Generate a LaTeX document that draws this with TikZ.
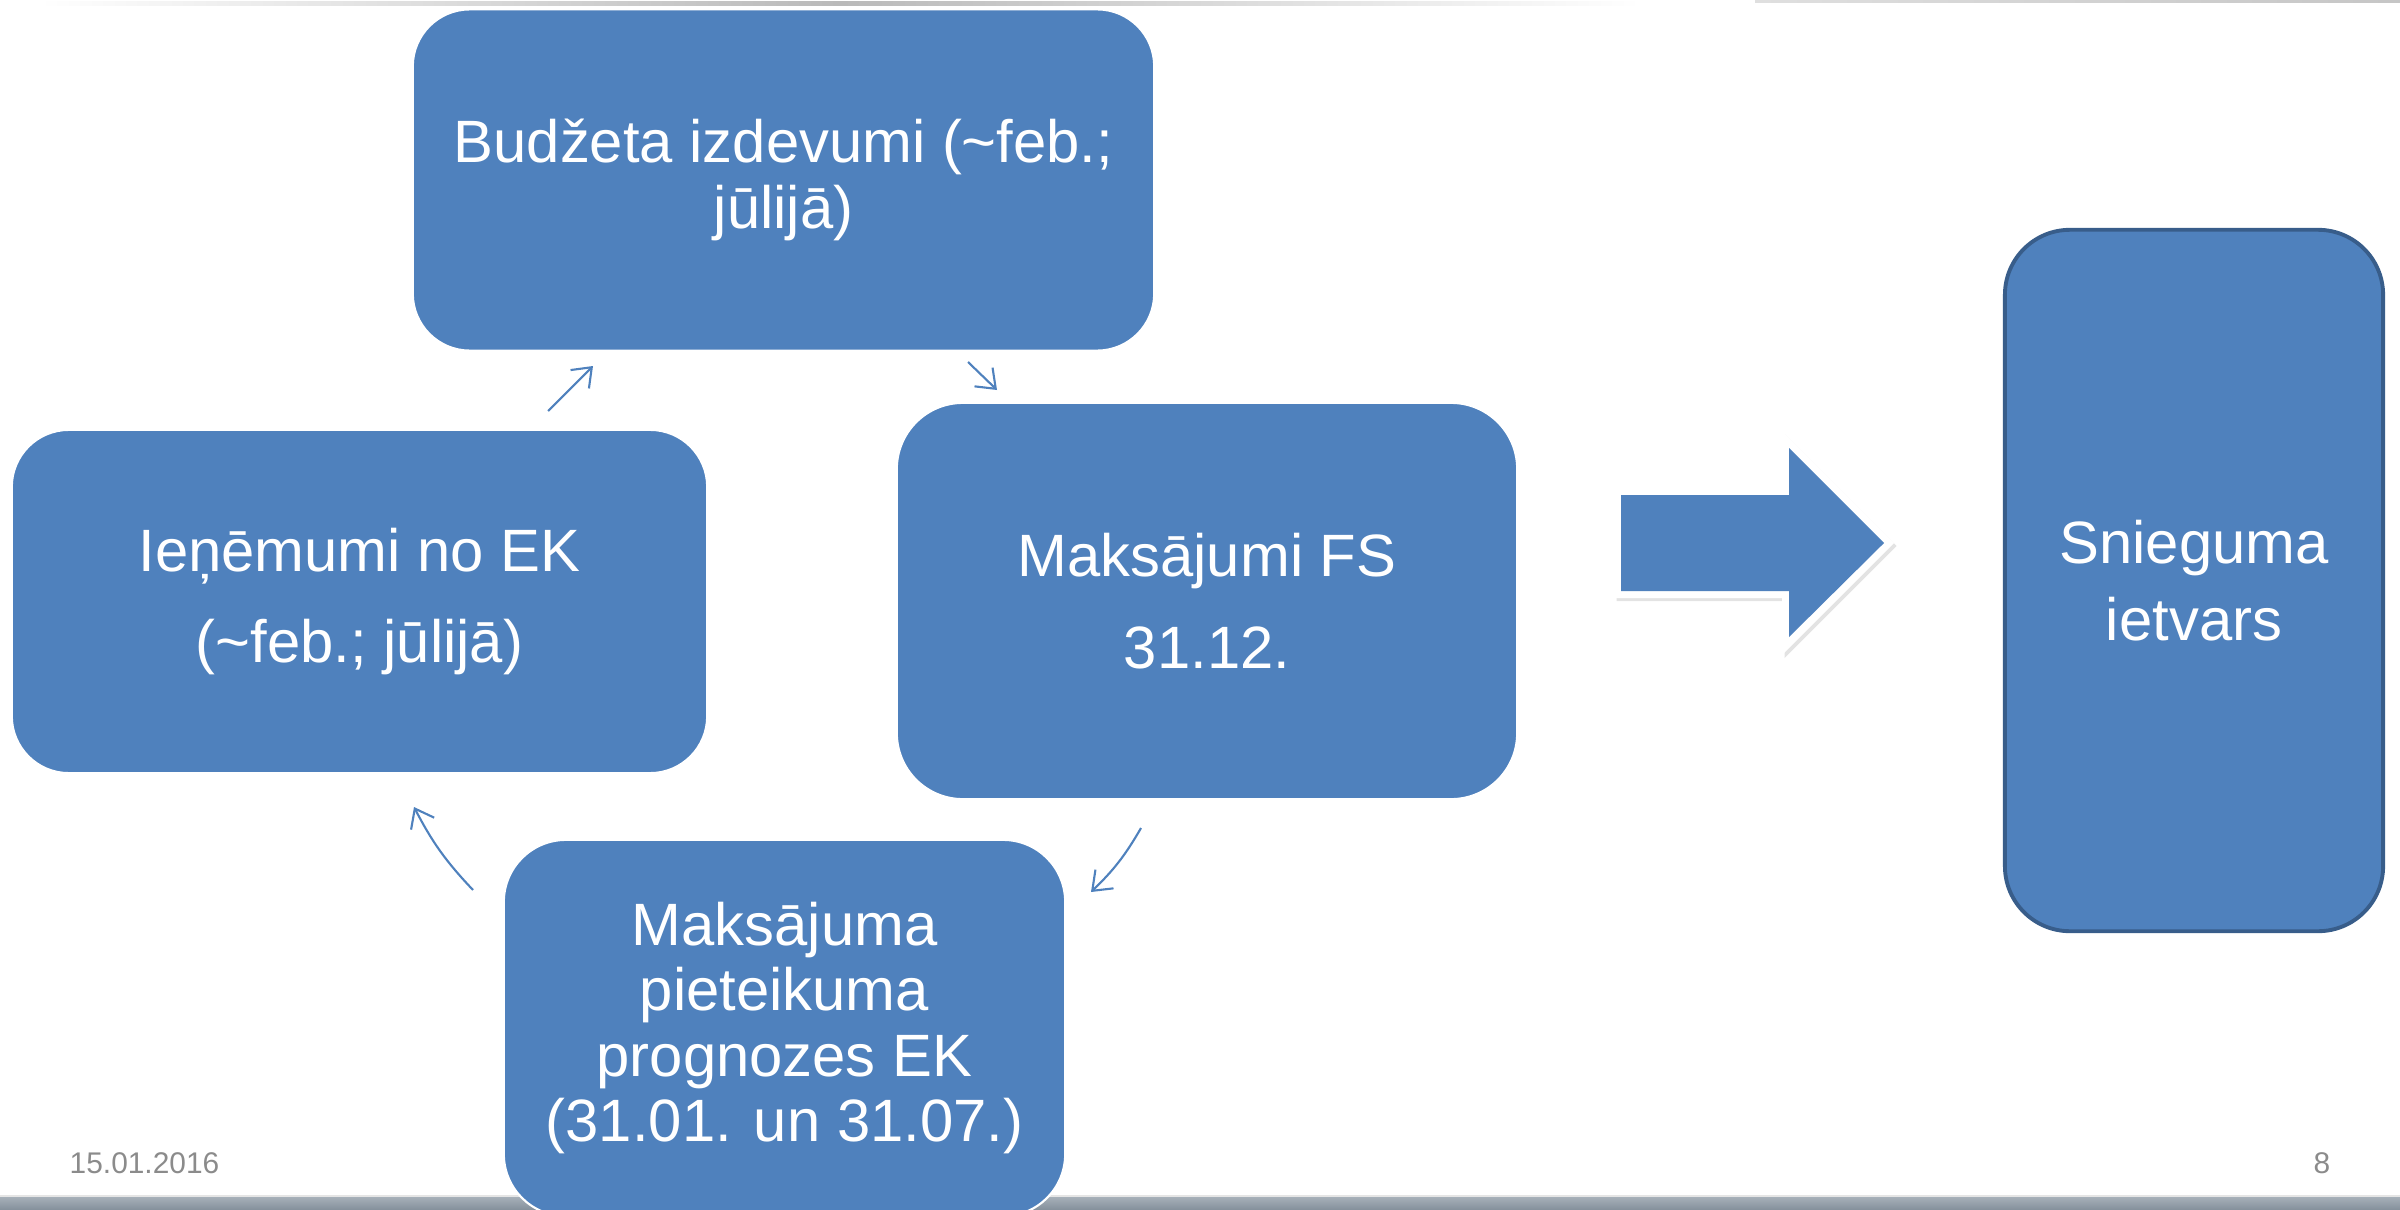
\documentclass[tikz,border=0pt]{standalone}
\usepackage{fontspec}
\setmainfont{Liberation Sans}
\usetikzlibrary{arrows.meta,shadows}
\definecolor{boxblue}{HTML}{4F81BD}
\definecolor{boxedge}{HTML}{385D8A}
\definecolor{footgray}{HTML}{8B8B8B}
\definecolor{bartop}{HTML}{A9B2BB}
\definecolor{barbot}{HTML}{7E8A96}
\begin{document}
\begin{tikzpicture}[x=0.01cm,y=-0.01cm,
  cyclebox/.style={rectangle, fill=boxblue, draw=white, line width=0.6pt,
    text=white, align=center, inner sep=0pt},
  sidebox/.style={rectangle, fill=boxblue, draw=boxedge, line width=1.1pt,
    text=white, align=center, inner sep=0pt},
  conn/.style={draw=boxblue, line width=0.6pt,
    -{Straight Barb[length=1.7mm,width=2.6mm]}},
  foot/.style={text=footgray, font=\fontsize{8.5}{10}\selectfont, inner sep=0pt}]
\useasboundingbox (0,0) rectangle (2400,1209);

% thin top lines
\shade[left color=white, right color=white, middle color=gray!55] (40,2) rectangle (1640,5);
\shade[left color=gray!25, right color=gray!45] (1755,0) rectangle (2400,3);

% bottom bar
\shade[top color=bartop, bottom color=barbot] (0,1196) rectangle (2400,1212);
\fill[gray!20] (0,1195) rectangle (2400,1197);

% cycle boxes
\node[cyclebox, minimum width=7.41cm, minimum height=3.41cm, rounded corners=0.57cm,
  font=\fontsize{17}{18.6}\selectfont] (budz) at (783.5,180)
  {Budžeta izdevumi (\textasciitilde feb.;\\ jūlijā)};
\node[cyclebox, minimum width=6.95cm, minimum height=3.43cm, rounded corners=0.57cm,
  font=\fontsize{17}{26}\selectfont] (ien) at (359.5,601.5)
  {Ieņēmumi no EK\\(\textasciitilde feb.; jūlijā)};
\node[cyclebox, minimum width=6.20cm, minimum height=3.96cm, rounded corners=0.66cm,
  font=\fontsize{17}{26}\selectfont] (maks) at (1207,601)
  {Maksājumi FS\\31.12.};
\node[cyclebox, minimum width=5.61cm, minimum height=3.76cm, rounded corners=0.62cm,
  font=\fontsize{17}{18.5}\selectfont] (prog) at (784.5,1028)
  {Maksājuma\\pieteikuma\\prognozes EK\\(31.01. un 31.07.)};

% right box
\node[sidebox, minimum width=3.78cm, minimum height=7.01cm, rounded corners=0.65cm,
  font=\fontsize{17}{21.8}\selectfont] (snieg) at (2194,580.5)
  {Snieguma\\ietvars};

% big arrow
\fill[white, drop shadow={shadow xshift=0.025cm, shadow yshift=-0.03cm, opacity=0.22}]
  (1614,488) -- (1782,488) -- (1782,431) -- (1894,543) -- (1782,655) -- (1782,598) -- (1614,598) -- cycle;
\fill[boxblue]
  (1621,495) -- (1789,495) -- (1789,448) -- (1884,543) -- (1789,637) -- (1789,591) -- (1621,591) -- cycle;

% connector end points
\coordinate (c1s) at (548,411);
\coordinate (c1e) at (593,366);
\coordinate (c2s) at (968,362);
\coordinate (c2e) at (997,390);
\coordinate (c3s) at (1141,828);
\coordinate (c3e) at (1091,892);
\coordinate (c4s) at (473,890);
\coordinate (c4e) at (414,807);

\draw[conn] (c1s) -- (c1e);
\draw[conn] (c2s) -- (c2e);
\draw[conn] (c3s) to[bend left=8] (c3e);
\draw[conn] (c4s) to[bend left=8] (c4e);

% footer
\node[foot, anchor=west] (date) at (69,1163) {15.01.2016};
\node[foot] (page) at (2322,1163) {8};
\end{tikzpicture}
\end{document}
